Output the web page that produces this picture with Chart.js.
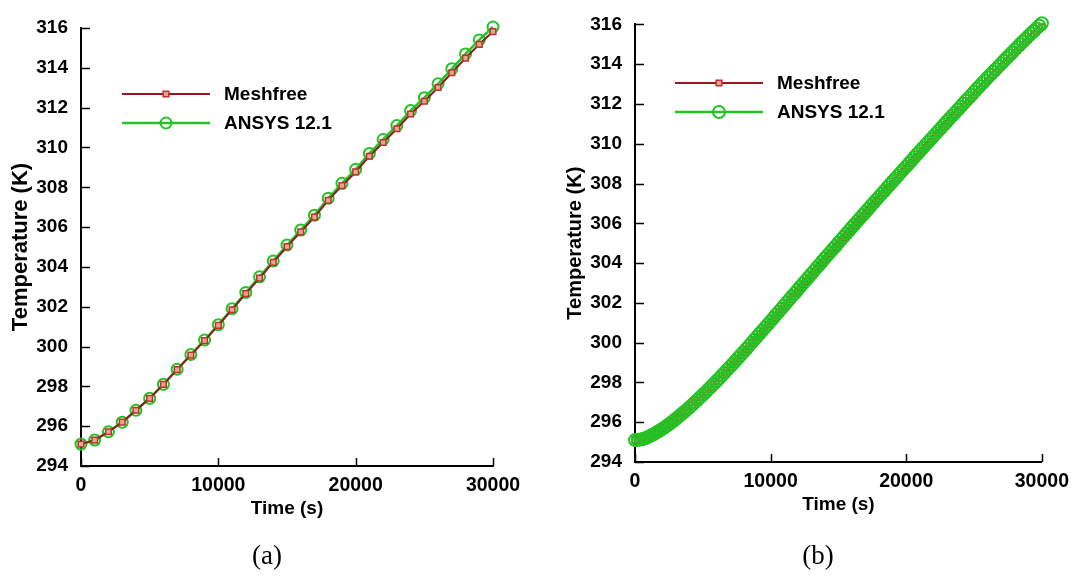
<!DOCTYPE html>
<html>
<head>
<meta charset="utf-8">
<title>Temperature history</title>
<script src="https://cdn.jsdelivr.net/npm/chart.js@4/dist/chart.umd.min.js"></script>
<style>
  html, body { margin: 0; padding: 0; background: #fff; width: 1077px; height: 577px; overflow: hidden; }
  .panel { position: absolute; top: 0; height: 577px; }
  #pa { left: 0; width: 540px; }
  #pb { left: 540px; width: 537px; }
  .cap { position: absolute; top: 540px; line-height: 31px; font-family: 'Liberation Serif', 'Times New Roman', serif;
         font-size: 27px; color: #000; transform: translateX(-50%); white-space: nowrap; }
</style>
</head>
<body>
<div class="panel" id="pa"><canvas id="ca" width="540" height="577"></canvas></div>
<div class="panel" id="pb"><canvas id="cb" width="537" height="577"></canvas></div>
<div class="cap" style="left:267px">(a)</div>
<div class="cap" style="left:818px">(b)</div>
<script>
// ---- data -------------------------------------------------------------
const seriesNames = ['Meshfree', 'ANSYS 12.1'];
const xTickValues = [0, 10000, 20000, 30000];
const yTickValues = [294, 296, 298, 300, 302, 304, 306, 308, 310, 312, 314, 316];

// (a) output every 1000 s
const timeA = [0, 1000, 2000, 3000, 4000, 5000, 6000, 7000, 8000, 9000, 10000,
  11000, 12000, 13000, 14000, 15000, 16000, 17000, 18000, 19000, 20000,
  21000, 22000, 23000, 24000, 25000, 26000, 27000, 28000, 29000, 30000];
const meshfreeA = [295.1, 295.3, 295.72, 296.2, 296.8, 297.4, 298.1, 298.84, 299.57, 300.3, 301.06,
  301.85, 302.66, 303.44, 304.23, 305.02, 305.76, 306.5, 307.34, 308.08, 308.77,
  309.56, 310.25, 310.94, 311.68, 312.32, 313.01, 313.75, 314.49, 315.18, 315.82];
const ansysA = [295.1, 295.3, 295.72, 296.2, 296.8, 297.4, 298.1, 298.86, 299.6, 300.33, 301.1,
  301.9, 302.72, 303.5, 304.3, 305.1, 305.85, 306.6, 307.45, 308.2, 308.9,
  309.7, 310.4, 311.1, 311.85, 312.5, 313.2, 313.95, 314.7, 315.4, 316.05];

// (b) output every 200 s
const timeB = [0, 200, 400, 600, 800, 1000, 1200, 1400, 1600, 1800, 2000, 2200, 2400, 2600, 2800,
  3000, 3200, 3400, 3600, 3800, 4000, 4200, 4400, 4600, 4800, 5000, 5200, 5400, 5600, 5800,
  6000, 6200, 6400, 6600, 6800, 7000, 7200, 7400, 7600, 7800, 8000, 8200, 8400, 8600, 8800,
  9000, 9200, 9400, 9600, 9800, 10000, 10200, 10400, 10600, 10800, 11000, 11200, 11400, 11600, 11800,
  12000, 12200, 12400, 12600, 12800, 13000, 13200, 13400, 13600, 13800, 14000, 14200, 14400, 14600, 14800,
  15000, 15200, 15400, 15600, 15800, 16000, 16200, 16400, 16600, 16800, 17000, 17200, 17400, 17600, 17800,
  18000, 18200, 18400, 18600, 18800, 19000, 19200, 19400, 19600, 19800, 20000, 20200, 20400, 20600, 20800,
  21000, 21200, 21400, 21600, 21800, 22000, 22200, 22400, 22600, 22800, 23000, 23200, 23400, 23600, 23800,
  24000, 24200, 24400, 24600, 24800, 25000, 25200, 25400, 25600, 25800, 26000, 26200, 26400, 26600, 26800,
  27000, 27200, 27400, 27600, 27800, 28000, 28200, 28400, 28600, 28800, 29000, 29200, 29400, 29600, 29800,
  30000];
const meshfreeB = [295.10, 295.11, 295.13, 295.16, 295.21, 295.27, 295.34, 295.41, 295.49, 295.57,
  295.66, 295.75, 295.85, 295.95, 296.05, 296.16, 296.27, 296.39, 296.50, 296.62,
  296.74, 296.86, 296.99, 297.12, 297.25, 297.38, 297.51, 297.65, 297.78, 297.92,
  298.06, 298.20, 298.35, 298.49, 298.64, 298.75, 298.90, 299.05, 299.20, 299.35,
  299.50, 299.65, 299.81, 299.96, 300.12, 300.27, 300.43, 300.58, 300.74, 300.89,
  301.05, 301.21, 301.37, 301.52, 301.68, 301.84, 302.00, 302.16, 302.32, 302.47,
  302.59, 302.75, 302.91, 303.06, 303.22, 303.38, 303.54, 303.70, 303.85, 304.01,
  304.17, 304.33, 304.48, 304.64, 304.79, 304.95, 305.11, 305.26, 305.42, 305.57,
  305.73, 305.88, 306.04, 306.19, 306.35, 306.50, 306.65, 306.81, 306.96, 307.12,
  307.23, 307.38, 307.53, 307.69, 307.84, 307.99, 308.14, 308.29, 308.45, 308.60,
  308.75, 308.90, 309.05, 309.21, 309.36, 309.51, 309.66, 309.81, 309.96, 310.11,
  310.26, 310.41, 310.56, 310.71, 310.86, 311.01, 311.16, 311.31, 311.45, 311.60,
  311.70, 311.85, 312.00, 312.14, 312.29, 312.44, 312.59, 312.73, 312.88, 313.02,
  313.17, 313.31, 313.45, 313.59, 313.73, 313.87, 314.01, 314.15, 314.29, 314.43,
  314.57, 314.71, 314.84, 314.98, 315.11, 315.25, 315.38, 315.51, 315.64, 315.77,
  315.88];
const ansysB = [295.10, 295.11, 295.13, 295.16, 295.21, 295.27, 295.34, 295.41, 295.49, 295.57,
  295.66, 295.75, 295.85, 295.95, 296.05, 296.16, 296.27, 296.39, 296.50, 296.62,
  296.74, 296.86, 296.99, 297.12, 297.25, 297.38, 297.51, 297.65, 297.78, 297.92,
  298.06, 298.20, 298.35, 298.49, 298.64, 298.78, 298.93, 299.08, 299.23, 299.38,
  299.53, 299.68, 299.84, 299.99, 300.15, 300.30, 300.46, 300.61, 300.77, 300.92,
  301.08, 301.24, 301.40, 301.55, 301.71, 301.87, 302.03, 302.19, 302.35, 302.50,
  302.66, 302.82, 302.98, 303.13, 303.29, 303.45, 303.61, 303.77, 303.92, 304.08,
  304.24, 304.40, 304.55, 304.71, 304.86, 305.02, 305.18, 305.33, 305.49, 305.64,
  305.80, 305.95, 306.11, 306.26, 306.42, 306.57, 306.72, 306.88, 307.03, 307.19,
  307.34, 307.49, 307.64, 307.80, 307.95, 308.10, 308.25, 308.40, 308.56, 308.71,
  308.86, 309.01, 309.16, 309.32, 309.47, 309.62, 309.77, 309.92, 310.07, 310.22,
  310.37, 310.52, 310.67, 310.82, 310.97, 311.12, 311.27, 311.42, 311.56, 311.71,
  311.86, 312.01, 312.16, 312.30, 312.45, 312.60, 312.75, 312.89, 313.04, 313.18,
  313.33, 313.47, 313.61, 313.75, 313.89, 314.03, 314.17, 314.31, 314.45, 314.59,
  314.73, 314.87, 315.00, 315.14, 315.27, 315.41, 315.54, 315.67, 315.80, 315.93,
  316.06];

// ---- drawing helpers ----------------------------------------------------
const SANS = "'Liberation Sans', Arial, Helvetica, sans-serif";
const RED_LINE = '#8e1b1f';
const RED_MARK = '#c0302f';
const GREEN = '#22c322';

function pairs(xs, ys) { return xs.map((x, i) => ({ x: x, y: ys[i] })); }

function marker(ctx, style, r, x, y, stroke, fill, lw) {
  ctx.save();
  ctx.lineWidth = lw;
  ctx.strokeStyle = stroke;
  ctx.fillStyle = fill;
  ctx.beginPath();
  if (style === 'rect') {
    const s = r * Math.SQRT1_2;
    ctx.rect(x - s, y - s, 2 * s, 2 * s);
  } else {
    ctx.arc(x, y, r, 0, Math.PI * 2);
  }
  if (fill && fill !== 'transparent') ctx.fill();
  ctx.stroke();
  ctx.restore();
}

// tick marks pointing into the plot area
const innerTicks = {
  id: 'innerTicks',
  afterDraw(chart, args, o) {
    const { ctx, chartArea } = chart;
    const xs = chart.scales.x, ys = chart.scales.y;
    ctx.save();
    ctx.strokeStyle = '#000';
    ctx.lineWidth = 1.5;
    ctx.beginPath();
    xs.ticks.forEach(t => {
      const px = Math.round(xs.getPixelForValue(t.value)) + 0.5;
      ctx.moveTo(px, chartArea.bottom);
      ctx.lineTo(px, chartArea.bottom - o.xLen);
    });
    ys.ticks.forEach(t => {
      const py = Math.round(ys.getPixelForValue(t.value)) + 0.5;
      ctx.moveTo(chartArea.left, py);
      ctx.lineTo(chartArea.left + o.yLen, py);
    });
    ctx.stroke();
    ctx.restore();
  }
};

// line-and-marker key inside the plot area
const lineKey = {
  id: 'lineKey',
  afterDraw(chart, args, o) {
    const ctx = chart.ctx;
    chart.data.datasets.forEach((ds, i) => {
      const y = o.rows[i];
      ctx.save();
      ctx.strokeStyle = ds.borderColor;
      ctx.lineWidth = ds.borderWidth;
      ctx.beginPath();
      ctx.moveTo(o.x1, y);
      ctx.lineTo(o.x2, y);
      ctx.stroke();
      ctx.restore();
      marker(ctx, ds.pointStyle, ds.pointRadius, (o.x1 + o.x2) / 2, y,
             ds.pointBorderColor, ds.pointBackgroundColor, ds.pointBorderWidth);
      ctx.save();
      ctx.fillStyle = '#000';
      ctx.font = 'bold ' + o.fontSize + 'px ' + SANS;
      ctx.textAlign = 'left';
      ctx.textBaseline = 'middle';
      ctx.fillText(ds.label, o.tx, y + 1);
      ctx.restore();
    });
  }
};

function makeChart(id, t, mesh, ansys, L) {
  const canvas = document.getElementById(id);
  const W = canvas.width, H = canvas.height;
  return new Chart(canvas, {
    type: 'line',
    data: {
      datasets: [
        {
          label: seriesNames[0], data: pairs(t, mesh), order: L.meshOrder, clip: false,
          borderColor: RED_LINE, borderWidth: 2, tension: 0,
          pointStyle: 'rect', pointRadius: 4, pointBorderWidth: 1.5,
          pointBorderColor: RED_MARK, pointBackgroundColor: '#e0a890'
        },
        {
          label: seriesNames[1], data: pairs(t, ansys), order: 1 - L.meshOrder, clip: false,
          borderColor: GREEN, borderWidth: 2.5, tension: 0,
          pointStyle: 'circle', pointRadius: L.circleR, pointBorderWidth: 2,
          pointBorderColor: GREEN, pointBackgroundColor: 'transparent'
        }
      ]
    },
    options: {
      responsive: false,
      animation: false,
      events: [],
      layout: { padding: { left: 0, top: L.top, right: W - L.right, bottom: 0 } },
      plugins: {
        legend: { display: false },
        tooltip: { enabled: false },
        innerTicks: { xLen: 8, yLen: 9 },
        lineKey: L.key
      },
      scales: {
        x: {
          type: 'linear', min: 0, max: 30000,
          afterBuildTicks: s => { s.ticks = xTickValues.map(v => ({ value: v })); },
          afterFit: s => { s.height = H - L.bottom; },
          ticks: {
            color: '#000', padding: 8, maxRotation: 0, autoSkip: false,
            font: { family: SANS, size: 19.5, weight: 'bold' },
            callback: v => String(v)
          },
          grid: { display: false, drawTicks: false },
          border: { display: true, color: '#000', width: 2 },
          title: {
            display: true, text: 'Time (s)', color: '#000',
            font: { family: SANS, size: 19, weight: 'bold' },
            padding: { top: 0, bottom: L.xTitlePad }
          }
        },
        y: {
          type: 'linear', min: 294, max: 316,
          afterBuildTicks: s => { s.ticks = yTickValues.map(v => ({ value: v })); },
          afterFit: s => { s.width = L.left; },
          ticks: {
            color: '#000', padding: 13,
            font: { family: SANS, size: 19, weight: 'bold' },
            callback: v => String(v)
          },
          grid: { display: false, drawTicks: false },
          border: { display: true, color: '#000', width: 2 },
          title: {
            display: true, text: 'Temperature (K)', color: '#000',
            font: { family: SANS, size: L.yTitleSize, weight: 'bold' },
            padding: { top: L.yTitlePad, bottom: 0 }
          }
        }
      }
    },
    plugins: [innerTicks, lineKey]
  });
}

// (a): squares drawn over the circles; (b): circles drawn over the squares
makeChart('ca', timeA, meshfreeA, ansysA, {
  left: 81, right: 493, top: 28, bottom: 466, meshOrder: 0,
  circleR: 5.5, yTitleSize: 22, yTitlePad: 8, xTitlePad: 57,
  key: { x1: 122, x2: 210, rows: [94, 123], tx: 224, fontSize: 19 }
});

makeChart('cb', timeB, meshfreeB, ansysB, {
  left: 95, right: 506, top: 16, bottom: 462, meshOrder: 1,
  circleR: 6, yTitleSize: 20, yTitlePad: 23, xTitlePad: 61,
  key: { x1: 135, x2: 223, rows: [83, 112], tx: 237, fontSize: 19 }
});
</script>
</body>
</html>
